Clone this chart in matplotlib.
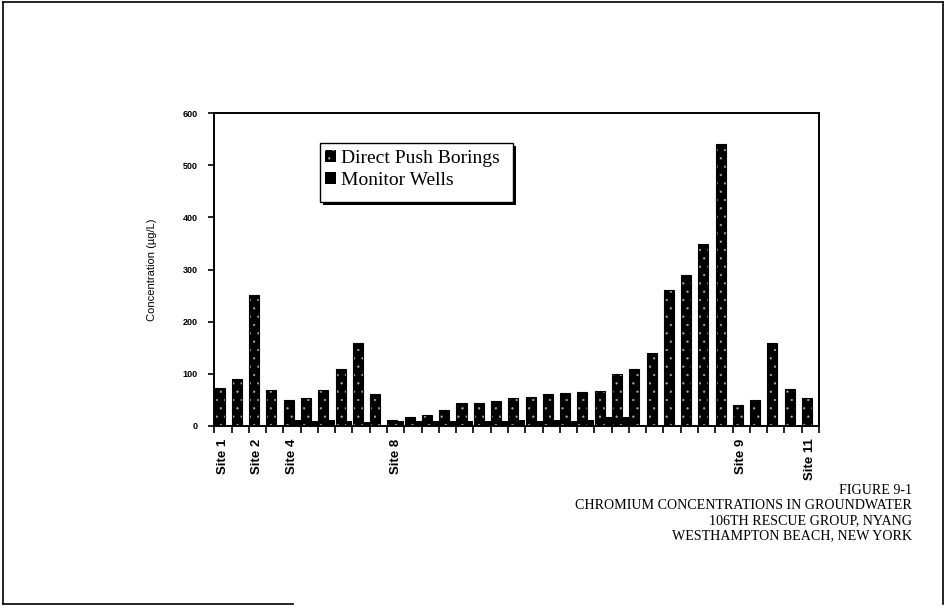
import numpy as np
import matplotlib.pyplot as plt
from matplotlib.patches import Patch, Rectangle
from matplotlib.lines import Line2D

# Chromium concentrations (ug/L), one pair of bars per sample location
direct_push = [72, 91, 252, 69, 50, 53, 69, 110, 160, 61,
               11, 17, 22, 30, 45, 44, 47, 54, 56, 61,
               64, 66, 68, 99, 109, 139, 260, 289, 349, 541,
               40, 50, 160, 70, 53]
monitor_wells = [0, 0, 0, 0, 12, 10, 11, 9, 8, 0,
                 9, 9, 10, 9, 10, 10, 10, 11, 10, 11,
                 10, 11, 17, 17, 0, 0, 0, 0, 0, 0,
                 0, 0, 0, 0, 0]
site_labels = {0: 'Site 1', 2: 'Site 2', 4: 'Site 4', 10: 'Site 8',
               30: 'Site 9', 34: 'Site 11'}
y_ticks = [0, 100, 200, 300, 400, 500, 600]
caption = ['FIGURE 9-1',
           'CHROMIUM CONCENTRATIONS IN GROUNDWATER',
           '106TH RESCUE GROUP, NYANG',
           'WESTHAMPTON BEACH, NEW YORK']

plt.rcParams['hatch.linewidth'] = 0.4

W, H = 946, 609
fig = plt.figure(figsize=[W / 100, H / 100], dpi=100)
ax = fig.add_axes([0.2265, 0.3005, 0.6392, 0.5139])

n = len(direct_push)
x = np.arange(n)

ax.bar(x + 0.02, direct_push, width=0.58, align='edge', color='black',
       edgecolor='#a8a8a8', hatch='..', linewidth=0)
ax.bar(x + 0.02, direct_push, width=0.58, align='edge', fill=False,
       edgecolor='black', linewidth=0.8)
ax.bar(x + 0.60, monitor_wells, width=0.40, align='edge', color='black',
       linewidth=0)

ax.set_xlim(0, n)
ax.set_ylim(0, 600)

ax.set_xticks(np.arange(n + 1))
ax.set_xticklabels([])
ax.tick_params(axis='x', which='major', direction='out', length=5, width=1.2)
ax.set_xticks([k + 0.5 for k in site_labels], minor=True)
ax.set_xticklabels(list(site_labels.values()), minor=True, rotation=90,
                   fontsize=9.5, fontweight='bold', family='Liberation Sans')
ax.tick_params(axis='x', which='minor', length=0, pad=9)

ax.set_yticks(y_ticks)
ax.set_yticklabels(y_ticks, fontsize=6.5, fontweight='bold', family='Liberation Sans')
ax.tick_params(axis='y', direction='out', length=4, width=1.2, pad=8)

for s in ax.spines.values():
    s.set_linewidth(1.4)

ax.set_ylabel('Concentration (\u00b5g/L)', fontsize=8, family='Liberation Sans',
              labelpad=18)

# legend box with a solid drop shadow
bx0, bx1, by0, by1 = 320 / W, 513 / W, 1 - 202 / H, 1 - 143 / H
fig.patches.append(Rectangle((bx0 + 3 / W, by0 - 3 / H), bx1 - bx0, by1 - by0,
                             transform=fig.transFigure, facecolor='black',
                             edgecolor='none', zorder=4))
fig.patches.append(Rectangle((bx0, by0), bx1 - bx0, by1 - by0,
                             transform=fig.transFigure, facecolor='white',
                             edgecolor='black', linewidth=1.0, zorder=5))

handles = [Patch(facecolor='black', edgecolor='#a8a8a8', hatch='..', linewidth=0),
           Patch(facecolor='black', linewidth=0)]
leg = fig.legend(handles, ['Direct Push Borings', 'Monitor Wells'],
                 loc='upper left', bbox_to_anchor=(325 / W, 1 - 150 / H),
                 prop={'family': 'Liberation Serif', 'size': 14},
                 frameon=False, handlelength=0.55, handleheight=0.55,
                 handletextpad=0.25, labelspacing=0.26, borderpad=0,
                 borderaxespad=0)
leg.set_zorder(6)

for i, line in enumerate(caption):
    fig.text(0.964, 0.1954 - i * 0.0252, line, ha='right', va='center',
             fontsize=10.1, family='Liberation Serif')

# page frame
frame = dict(transform=fig.transFigure, color='black', linewidth=1.2)
fig.lines.append(Line2D([0.003, 0.003], [0.008, 0.997], **frame))
fig.lines.append(Line2D([0.003, 0.997], [0.997, 0.997], **frame))
fig.lines.append(Line2D([0.997, 0.997], [0.008, 0.997], **frame))
fig.lines.append(Line2D([0.003, 0.31], [0.008, 0.008], **frame))

fig.savefig('out.png', dpi=100)
